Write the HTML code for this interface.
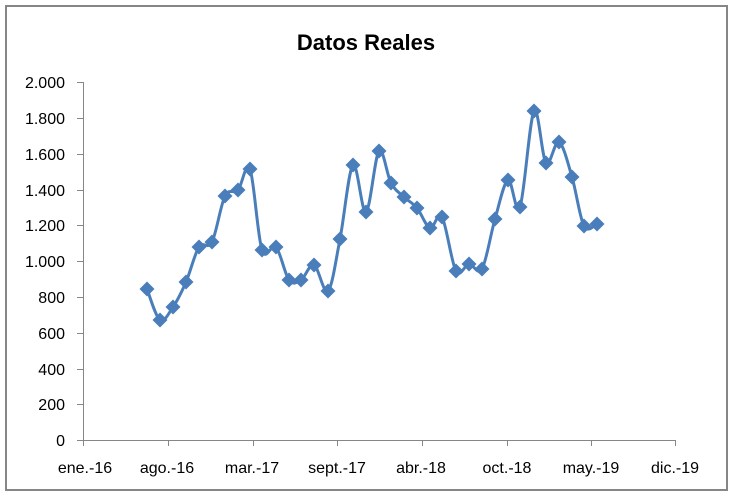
<!DOCTYPE html>
<html><head><style>
html,body{margin:0;padding:0;background:#fff;}
svg text{font-family:"Liberation Sans",sans-serif;fill:#000;}
</style></head><body>
<svg id="s" width="733" height="498" xmlns="http://www.w3.org/2000/svg">
<rect x="6" y="6" width="721" height="484" fill="#fff" stroke="#868686" stroke-width="2"/>
<text x="366" y="50" font-size="22" font-weight="bold" text-anchor="middle">Datos Reales</text>
<g stroke="#868686" stroke-width="1">
<line x1="83.5" y1="82" x2="83.5" y2="446"/>
<line x1="77" y1="440.5" x2="676" y2="440.5"/>
<line x1="77" y1="82.5" x2="83" y2="82.5"/>
<line x1="77" y1="118.5" x2="83" y2="118.5"/>
<line x1="77" y1="154.5" x2="83" y2="154.5"/>
<line x1="77" y1="190.5" x2="83" y2="190.5"/>
<line x1="77" y1="225.5" x2="83" y2="225.5"/>
<line x1="77" y1="261.5" x2="83" y2="261.5"/>
<line x1="77" y1="297.5" x2="83" y2="297.5"/>
<line x1="77" y1="333.5" x2="83" y2="333.5"/>
<line x1="77" y1="369.5" x2="83" y2="369.5"/>
<line x1="77" y1="404.5" x2="83" y2="404.5"/>
<line x1="168.5" y1="440" x2="168.5" y2="446"/>
<line x1="253.5" y1="440" x2="253.5" y2="446"/>
<line x1="337.5" y1="440" x2="337.5" y2="446"/>
<line x1="422.5" y1="440" x2="422.5" y2="446"/>
<line x1="507.5" y1="440" x2="507.5" y2="446"/>
<line x1="591.5" y1="440" x2="591.5" y2="446"/>
<line x1="675.5" y1="440" x2="675.5" y2="446"/>
</g>
<g font-size="16" text-anchor="end">
<text x="65" y="88">2.000</text><text x="65" y="124">1.800</text><text x="65" y="160">1.600</text>
<text x="65" y="196">1.400</text><text x="65" y="231">1.200</text><text x="65" y="267">1.000</text>
<text x="65" y="303">800</text><text x="65" y="339">600</text><text x="65" y="375">400</text>
<text x="65" y="410">200</text><text x="65" y="446">0</text>
</g>
<g font-size="16" text-anchor="middle">
<text x="85" y="473">ene.-16</text><text x="167" y="473">ago.-16</text><text x="252" y="473">mar.-17</text>
<text x="337" y="473">sept.-17</text><text x="421" y="473">abr.-18</text><text x="507" y="473">oct.-18</text>
<text x="591" y="473">may.-19</text><text x="675" y="473">dic.-19</text>
</g>
<path id="ln" fill="none" stroke="#4A7EBB" stroke-width="3" stroke-linejoin="round"/>
<g id="mk" fill="#4A7EBB"></g>
</svg>
<script>
var p=[[147,289],[160,320],[173,307],[186,282],[199,247],[212,242],[225,196],[238,190],[250,169],[262,250],[276,247],[289,280],[301,280],[314,265],[328,291],[340,239],[353,165],[366,212],[379,151],[391,183],[404,197],[417,208],[430,228],[442,217],[456,271],[469,264],[482,269],[495,219],[508,180],[520,207],[534,111],[546,163],[559,142],[572,177],[584,226],[597,224]];
var d="M"+p[0][0]+","+p[0][1];
for(var i=0;i<p.length-1;i++){var a=p[i-1]||p[i],b=p[i],c=p[i+1],e=p[i+2]||c,t=1/6;
d+=" C"+(b[0]+(c[0]-a[0])*t)+","+(b[1]+(c[1]-a[1])*t)+" "+(c[0]-(e[0]-b[0])*t)+","+(c[1]-(e[1]-b[1])*t)+" "+c[0]+","+c[1];}
document.getElementById("ln").setAttribute("d",d);
var g=document.getElementById("mk"),h="";
p.forEach(function(q){h+='<polygon points="'+q[0]+','+(q[1]-7.5)+' '+(q[0]+7.5)+','+q[1]+' '+q[0]+','+(q[1]+7.5)+' '+(q[0]-7.5)+','+q[1]+'"/>';});
g.innerHTML=h;
</script>
</body></html>
